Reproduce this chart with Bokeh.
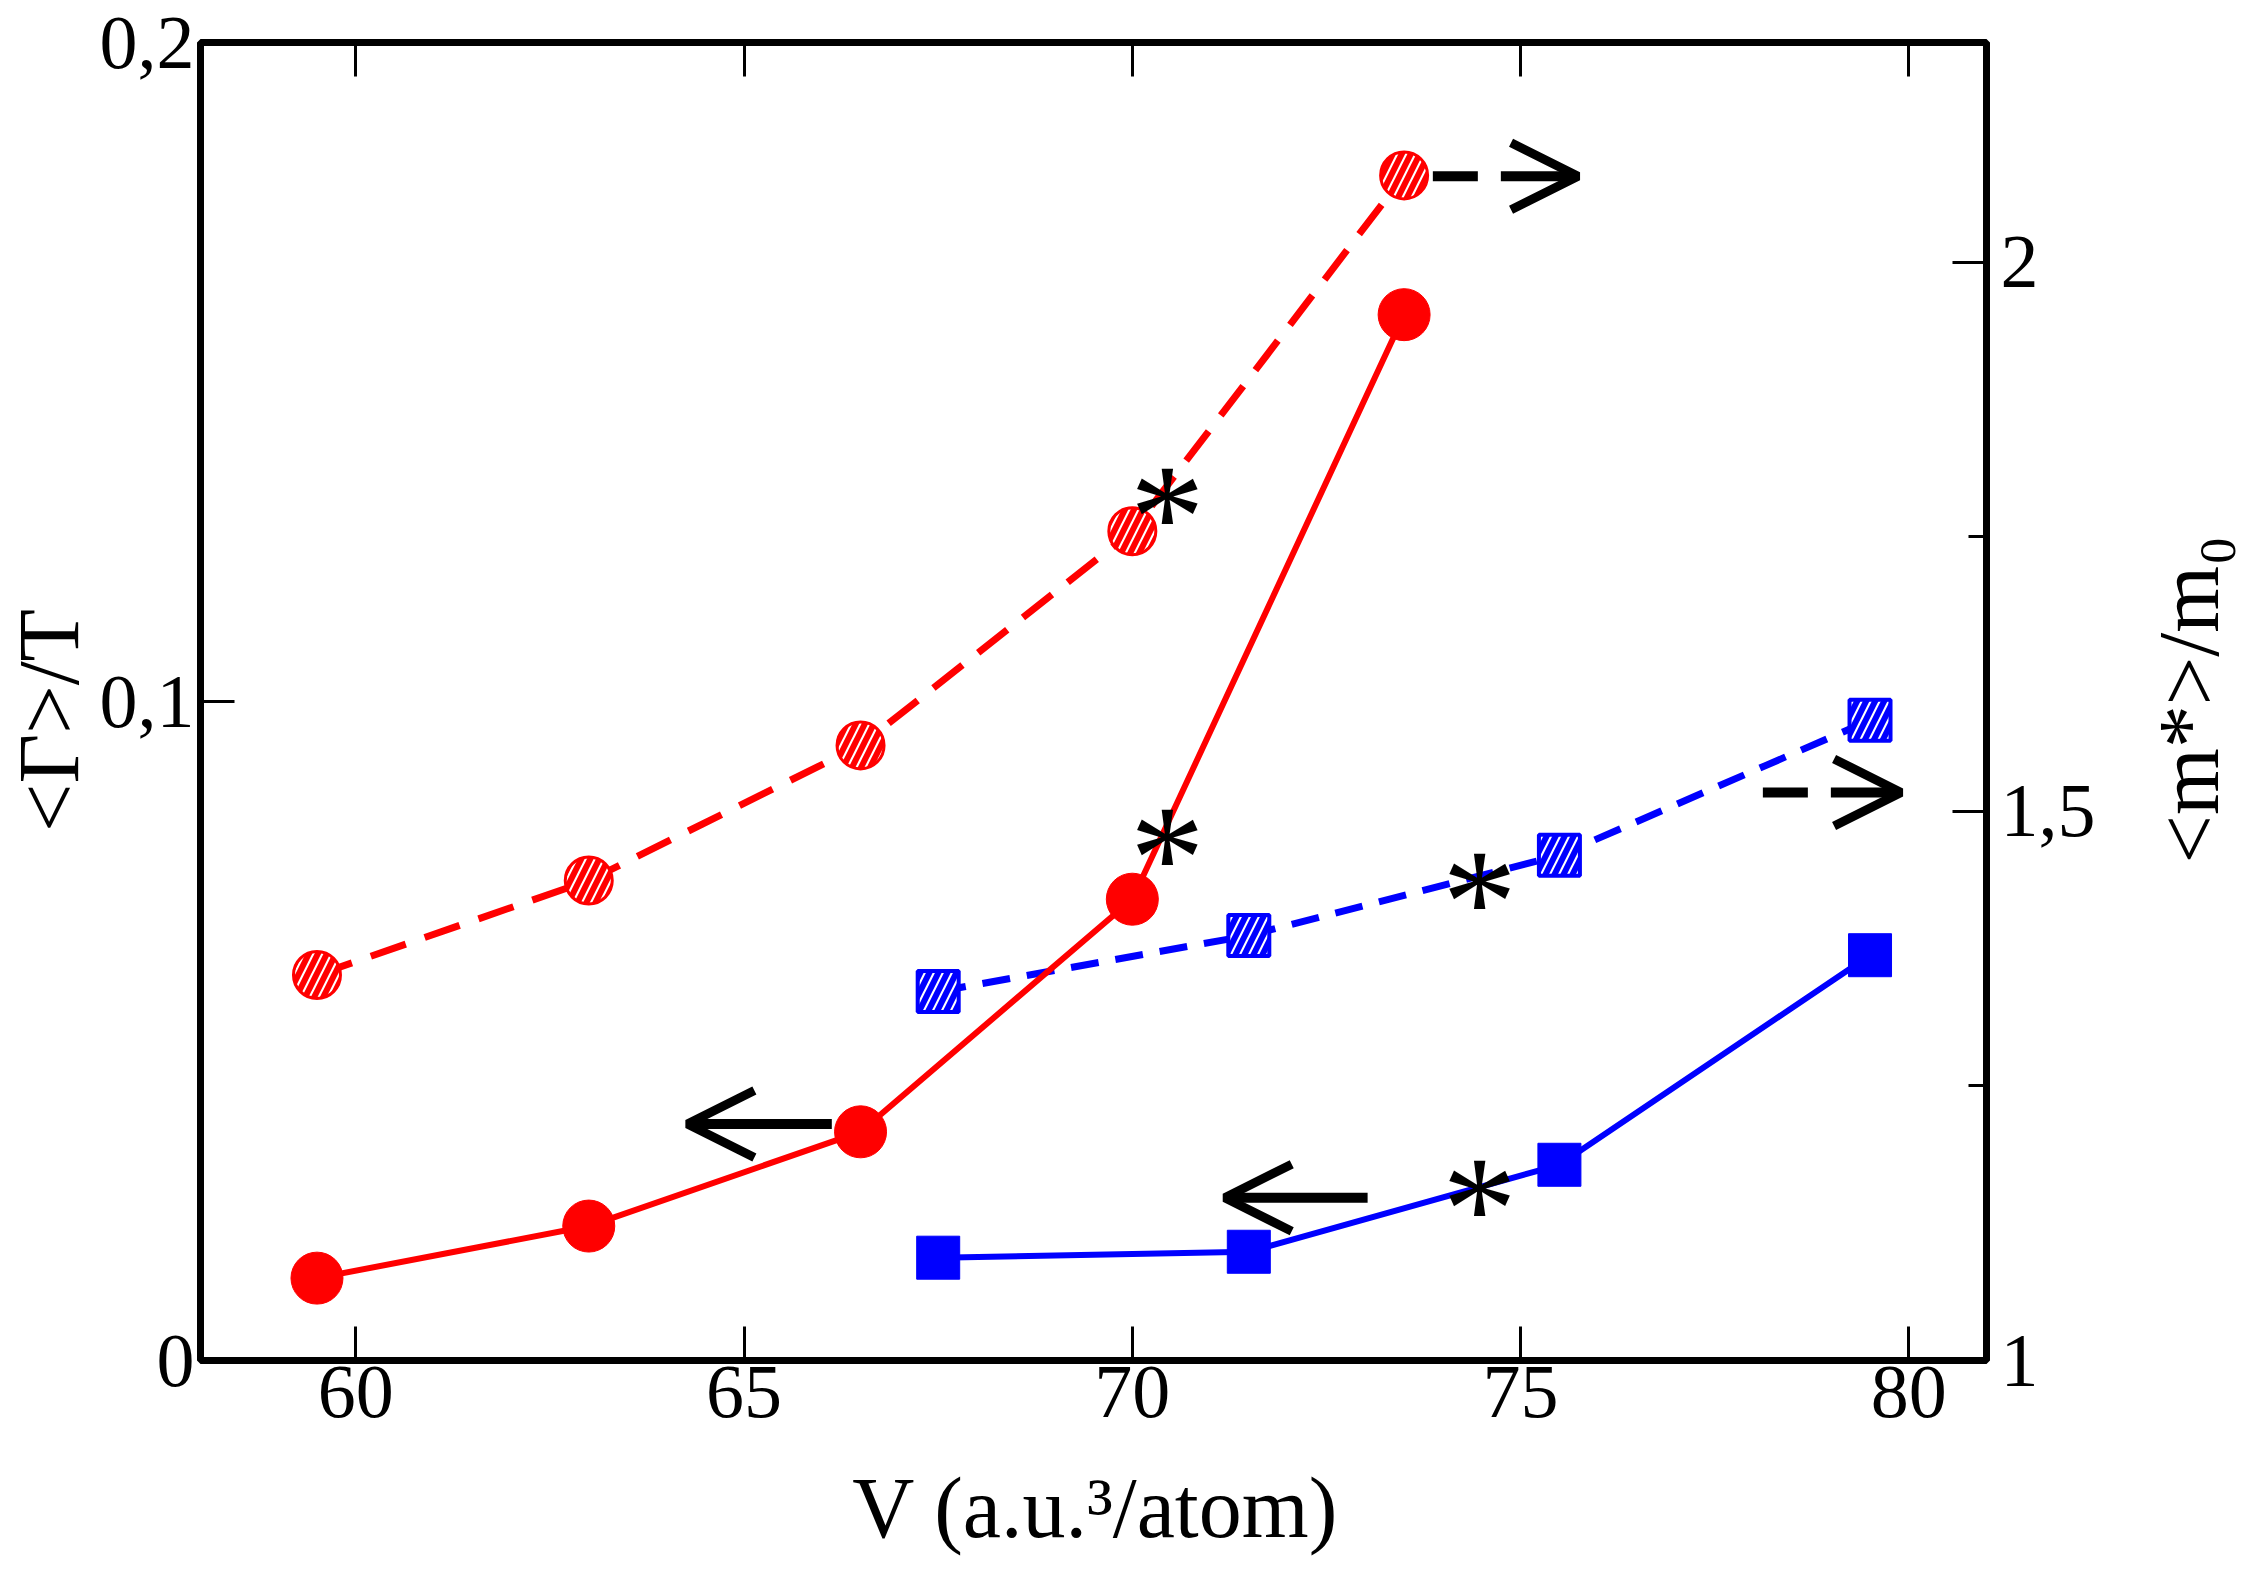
import math
from bokeh.plotting import figure
from bokeh.layouts import row, column
from bokeh.models import (Range1d, LinearAxis, FixedTicker, CustomJSTickFormatter,
                          Arrow, OpenHead, ColumnDataSource)
from bokeh.core.properties import value
from bokeh.embed import file_html
from bokeh.resources import INLINE

# ---- data ----
V_red = [59.5, 63.0, 66.5, 70.0, 73.5]
gamma_red = [0.0125, 0.0204, 0.0347, 0.0700, 0.1587]
mass_red = [1.351, 1.437, 1.560, 1.755, 2.079]

V_blue = [67.5, 71.5, 75.5, 79.5]
gamma_blue = [0.0156, 0.0165, 0.0297, 0.0615]
mass_blue = [1.336, 1.387, 1.460, 1.583]

star_V = [70.45, 70.45, 74.47, 74.47]
star_gamma = [0.0798, 0.1315, 0.0731, 0.0265]

arrow_left_start = [66.13, 73.03]
arrow_left_end = [64.27, 71.19]
arrow_left_y = [0.0359, 0.0247]

arrow_right_start = [73.87, 78.12]
arrow_right_end = [75.74, 79.90]
arrow_right_y = [0.1797, 0.0862]

x_ticks = [60, 65, 70, 75, 80]
left_ticks = [0, 0.1, 0.2]
right_ticks = [1, 1.5, 2]
right_minor = [1.25, 1.75]

x_label = "V (a.u.³/atom)"
left_label = "<Γ>/T"
right_label = "<m*>/m₀"

FONT = "Liberation Serif"

# layout sizes (pixels)
TOTAL_W, TOTAL_H = 2245, 1556
LEFT_W, RIGHT_W = 96, 139
MAIN_W = TOTAL_W - LEFT_W - RIGHT_W
MAIN_H = 1458
BOTTOM_H = TOTAL_H - MAIN_H


def blank(w, h):
    f = figure(width=w, height=h, x_range=Range1d(0, w), y_range=Range1d(0, h),
               output_backend="svg", toolbar_location=None, title=None,
               x_axis_location=None, y_axis_location=None, min_border=0)
    f.grid.visible = False
    f.outline_line_color = None
    f.background_fill_color = "white"
    f.border_fill_color = "white"
    return f


p = figure(width=MAIN_W, height=MAIN_H,
           x_range=Range1d(58, 81), y_range=Range1d(0, 0.2),
           output_backend="svg", toolbar_location=None, title=None,
           x_axis_location=None, y_axis_location=None,
           min_border_left=102, min_border_right=120,
           min_border_top=42, min_border_bottom=98)
p.extra_y_ranges = {"right": Range1d(1, 2.2)}
p.xgrid.visible = False
p.ygrid.visible = False
p.outline_line_color = "black"
p.outline_line_width = 7
p.background_fill_color = "white"
p.border_fill_color = "white"


def style(ax, standoff):
    ax.axis_line_color = None
    ax.major_tick_in = 34
    ax.major_tick_out = 0
    ax.major_tick_line_width = 3
    ax.major_tick_line_color = "black"
    ax.minor_tick_line_color = None
    ax.major_label_text_font = FONT
    ax.major_label_text_font_size = "76px"
    ax.major_label_text_color = "black"
    ax.major_label_standoff = standoff


bottom = LinearAxis(ticker=FixedTicker(ticks=x_ticks))
style(bottom, 6)
p.add_layout(bottom, "below")

top = LinearAxis(ticker=FixedTicker(ticks=x_ticks),
                 formatter=CustomJSTickFormatter(code="return '';"))
style(top, 0)
top.major_label_text_font_size = "0px"
p.add_layout(top, "above")

left = LinearAxis(ticker=FixedTicker(ticks=left_ticks),
                  formatter=CustomJSTickFormatter(
                      code="return tick == 0 ? '0' : tick.toFixed(1).replace('.', ',');"))
style(left, 6)
p.add_layout(left, "left")

right = LinearAxis(y_range_name="right",
                   ticker=FixedTicker(ticks=right_ticks, minor_ticks=right_minor),
                   formatter=CustomJSTickFormatter(
                       code="return Math.abs(tick - Math.round(tick)) < 1e-9 ? tick.toFixed(0) : tick.toFixed(1).replace('.', ',');"))
style(right, 14)
right.minor_tick_line_color = "black"
right.minor_tick_line_width = 3
right.minor_tick_in = 18
right.minor_tick_out = 0
p.add_layout(right, "right")

# ---- series ----
p.line(V_red, mass_red, y_range_name="right", color="red", line_width=7, line_dash="37 20")
p.line(V_blue, mass_blue, y_range_name="right", color="blue", line_width=7, line_dash="28 17")
p.line(V_red, gamma_red, color="red", line_width=6)
p.line(V_blue, gamma_blue, color="blue", line_width=6)

p.scatter(V_red, mass_red, y_range_name="right", marker="circle", size=47,
          line_color="red", line_width=3, fill_color="white",
          hatch_pattern="/", hatch_color="red", hatch_weight=6, hatch_scale=18)
p.scatter(V_blue, mass_blue, y_range_name="right", marker="square", size=41,
          line_color="blue", line_width=4, fill_color="white",
          hatch_pattern="/", hatch_color="blue", hatch_weight=6, hatch_scale=18)
p.scatter(V_red, gamma_red, marker="circle", size=52, color="red")
p.scatter(V_blue, gamma_blue, marker="square", size=43, color="blue")

# ---- asterisks ----
p.text(x=star_V, y=star_gamma, text=["*"] * len(star_V),
       text_font=value(FONT), text_font_size="150px", y_offset=22,
       text_align="center", text_baseline="middle", text_color="black")

# ---- arrows ----
src_l = ColumnDataSource(dict(xs=arrow_left_start, xe=arrow_left_end, y=arrow_left_y))
p.add_layout(Arrow(end=OpenHead(size=67, line_width=9, line_color="black"),
                   x_start="xs", x_end="xe", y_start="y", y_end="y", source=src_l,
                   line_width=10, line_color="black"))
src_r = ColumnDataSource(dict(xs=arrow_right_start, xe=arrow_right_end, y=arrow_right_y))
p.add_layout(Arrow(end=OpenHead(size=67, line_width=9, line_color="black"),
                   x_start="xs", x_end="xe", y_start="y", y_end="y", source=src_r,
                   line_width=10, line_color="black", line_dash="45 23 300 0"))

# ---- axis titles (in narrow panels beside the plot) ----
lp = blank(LEFT_W, MAIN_H)
lp.text(x=[48], y=[MAIN_H - 750], text=[left_label], angle=math.pi / 2,
        text_font=value(FONT), text_font_size="86px", text_align="center",
        text_baseline="alphabetic", text_color="black")

rp = blank(RIGHT_W, MAIN_H)
rp.text(x=[82], y=[MAIN_H - 727], text=[right_label], angle=math.pi / 2,
        text_font=value(FONT), text_font_size="86px", text_align="center",
        text_baseline="alphabetic", text_color="black")

bp = blank(TOTAL_W, BOTTOM_H)
bp.text(x=[1095], y=[BOTTOM_H - 49], text=[x_label],
        text_font=value(FONT), text_font_size="86px", text_align="center",
        text_baseline="alphabetic", text_color="black")

layout = column(row(lp, p, rp, spacing=0), bp, spacing=0)

open("out.html", "w").write(file_html(layout, INLINE))
